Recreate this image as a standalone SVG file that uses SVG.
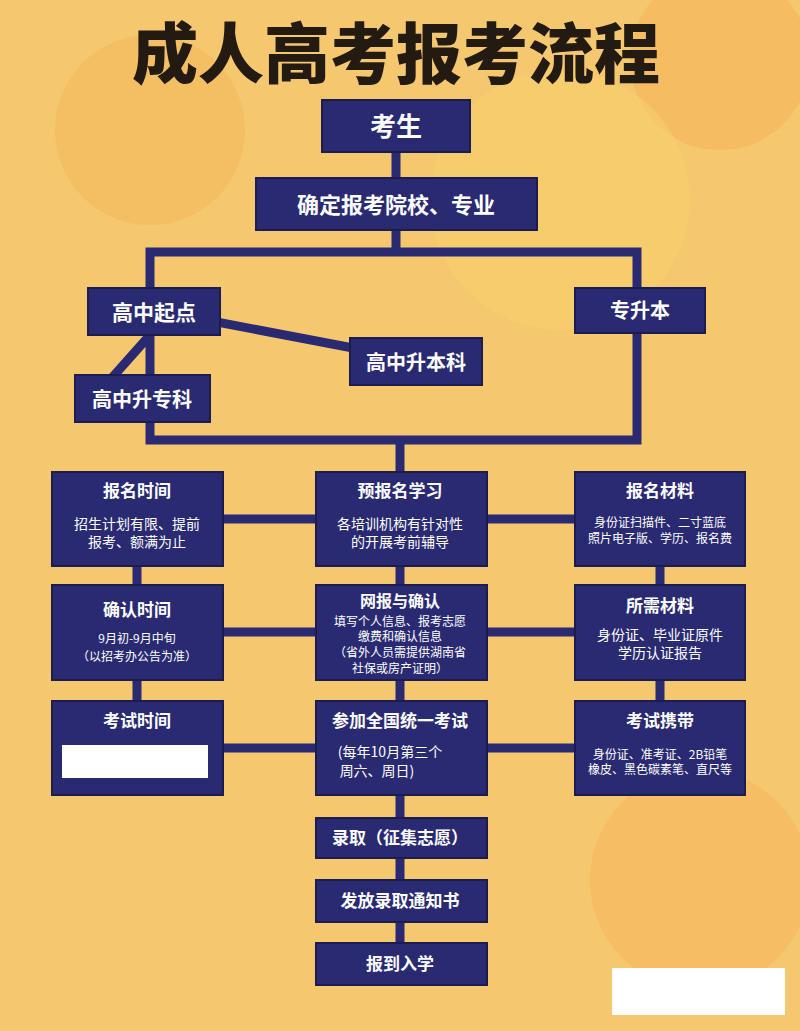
<svg xmlns="http://www.w3.org/2000/svg" width="800" height="1031" viewBox="0 0 800 1031">
<style>
.b{fill:#2a2a72;stroke:#1c1c50;stroke-width:2}
.t{fill:#fff;font-family:"Noto Sans CJK SC",sans-serif;text-anchor:middle}
.h{font-size:17px;font-weight:bold}
.s{font-size:14px}
.x{font-size:12px}
.c{stroke:#2a2a72;stroke-width:9;fill:none}
</style>
<rect width="800" height="1031" fill="#f5c76e"/>
<circle cx="150" cy="130" r="95" fill="#f4b95c" opacity="0.6"/>
<circle cx="720" cy="60" r="90" fill="#f7b45a" opacity="0.6"/>
<circle cx="560" cy="200" r="130" fill="#f9cf6a" opacity="0.6"/>
<circle cx="700" cy="880" r="110" fill="#f7b45a" opacity="0.5"/>
<text x="396" y="78" font-family="Noto Sans CJK SC,sans-serif" font-size="66" font-weight="900" text-anchor="middle" fill="#231a12">成人高考报考流程</text>
<g id="connectors">
<path class="c" d="M396 150V180M396 228V252M150 252H637V440H150ZM154 310L416 360M150 335L110 380M400 440V472M400 566V585M400 680V701M400 795V818M400 858V880M400 922V943M137 566V585M137 680V701M660 566V585M660 680V701M223 519H316M487 519H575M223 632H316M487 632H575M223 748H316M487 748H575"/>
</g>
<g id="n1"><rect class="b" x="322" y="100" width="148" height="52"/><text class="t" x="396" y="136" font-size="26" font-weight="bold">考生</text></g>
<g id="n2"><rect class="b" x="256" y="178" width="281" height="52"/><text class="t" x="396" y="213" font-size="22" font-weight="bold">确定报考院校、专业</text></g>
<g id="n3"><rect class="b" x="88" y="288" width="132" height="47"/><text class="t" x="154" y="320" font-size="21" font-weight="bold">高中起点</text></g>
<g id="n4"><rect class="b" x="575" y="288" width="130" height="45"/><text class="t" x="640" y="318" font-size="20" font-weight="bold">专升本</text></g>
<g id="n5"><rect class="b" x="350" y="338" width="132" height="47"/><text class="t" x="416" y="370" font-size="20" font-weight="bold">高中升本科</text></g>
<g id="n6"><rect class="b" x="75" y="375" width="135" height="47"/><text class="t" x="142" y="407" font-size="20" font-weight="bold">高中升专科</text></g>
<g id="n7"><rect class="b" x="52" y="472" width="171" height="94"/><text class="t h" x="137" y="497">报名时间</text><text class="t s" x="137" y="529">招生计划有限、提前</text><text class="t s" x="137" y="547">报考、额满为止</text></g>
<g id="n8"><rect class="b" x="316" y="472" width="171" height="94"/><text class="t h" x="400" y="497">预报名学习</text><text class="t s" x="400" y="529">各培训机构有针对性</text><text class="t s" x="400" y="547">的开展考前辅导</text></g>
<g id="n9"><rect class="b" x="575" y="472" width="170" height="94"/><text class="t h" x="660" y="497">报名材料</text><text class="t x" x="660" y="527">身份证扫描件、二寸蓝底</text><text class="t x" x="660" y="543">照片电子版、学历、报名费</text></g>
<g id="n10"><rect class="b" x="52" y="585" width="171" height="95"/><text class="t h" x="137" y="616">确认时间</text><text class="t x" x="137" y="643">9月初-9月中旬</text><text class="t x" x="137" y="661">（以招考办公告为准）</text></g>
<g id="n11"><rect class="b" x="316" y="585" width="171" height="95"/><text class="t" x="400" y="607" font-size="16" font-weight="bold">网报与确认</text><text class="t x" x="400" y="626">填写个人信息、报考志愿</text><text class="t x" x="400" y="641">缴费和确认信息</text><text class="t x" x="400" y="657">（省外人员需提供湖南省</text><text class="t x" x="400" y="673">社保或房产证明）</text></g>
<g id="n12"><rect class="b" x="575" y="585" width="170" height="95"/><text class="t h" x="660" y="612">所需材料</text><text class="t s" x="660" y="640">身份证、毕业证原件</text><text class="t s" x="660" y="658">学历认证报告</text></g>
<g id="n13"><rect class="b" x="52" y="701" width="171" height="94"/><text class="t h" x="137" y="727">考试时间</text><rect x="62" y="745" width="146" height="33" fill="#fff"/></g>
<g id="n14"><rect class="b" x="316" y="701" width="171" height="94"/><text class="t h" x="400" y="727">参加全国统一考试</text><text class="t s" x="390" y="757">(每年10月第三个</text><text class="t s" x="377" y="776">周六、周日)</text></g>
<g id="n15"><rect class="b" x="575" y="701" width="170" height="94"/><text class="t h" x="660" y="727">考试携带</text><text class="t x" x="660" y="759">身份证、准考证、2B铅笔</text><text class="t x" x="660" y="774">橡皮、黑色碳素笔、直尺等</text></g>
<g id="n16"><rect class="b" x="316" y="818" width="171" height="40"/><text class="t h" x="400" y="844">录取（征集志愿）</text></g>
<g id="n17"><rect class="b" x="316" y="880" width="171" height="42"/><text class="t h" x="400" y="907">发放录取通知书</text></g>
<g id="n18"><rect class="b" x="316" y="943" width="171" height="42"/><text class="t h" x="400" y="970">报到入学</text></g>
<rect x="612" y="968" width="173" height="47" fill="#fff"/>
</svg>
